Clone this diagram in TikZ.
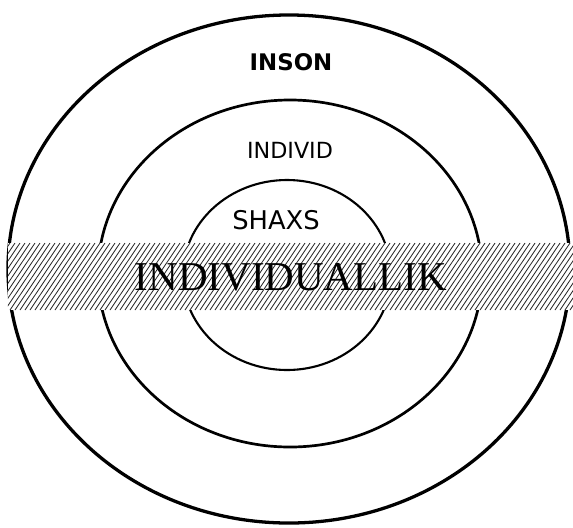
\documentclass[tikz,border=0pt]{standalone}
\usepackage{fontspec}
\setmainfont{Liberation Serif}
\newfontfamily\ringfont{DejaVu Sans}
\usetikzlibrary{positioning, shapes.geometric}

\begin{document}
\begin{tikzpicture}[
    x=0.03cm, y=-0.03cm,
    ring/.style={ellipse, draw, inner sep=0pt},
    ringlabel/.style={font=\ringfont\fontsize{19}{21}\selectfont, inner sep=0pt},
    band/.style={rectangle, fill=white, inner sep=0pt, minimum width=16.95cm,
    minimum height=2.01cm},
    hatch/.style={black!85, line width=0.7pt}
]

\useasboundingbox (0,0) rectangle (573,527);

\node[ring, line width=2.8pt, minimum width=16.86cm, minimum height=15.24cm] (outer) at (289,269) {};
\node[ring, line width=2.3pt, minimum width=11.52cm, minimum height=10.41cm] (middle) at (290,273.5) {};
\node[ring, line width=1.8pt, minimum width=6.24cm, minimum height=5.7cm] (inner) at (287,275) {};

\node[ringlabel, font=\ringfont\bfseries\fontsize{19.5}{21}\selectfont] (inson) at (291,62) {INSON};
\node[ringlabel] (individ) at (290,150) {INDIVID};
\node[ringlabel, font=\ringfont\fontsize{22}{24}\selectfont] (shaxs) at (276,220) {SHAXS};

% hatched band across the rings
\node[band] (band) at (290.5,276.5) {};
\begin{scope}
  \clip (band.south west) rectangle (band.north east);
  \foreach \x in {-50,-45,...,580}
    \draw[hatch] (\x,310) -- ++(45,-67);
\end{scope}
\node[inner sep=0pt, font=\fontsize{35}{40}\selectfont] (title) at (291,277) {INDIVIDUALLIK};

\end{tikzpicture}
\end{document}
